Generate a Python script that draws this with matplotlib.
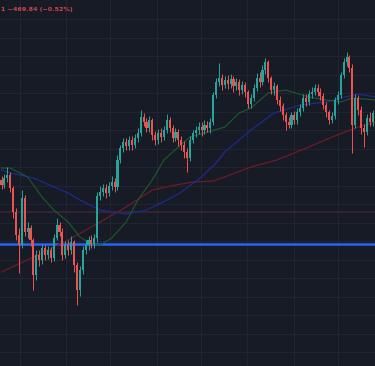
import numpy as np
import matplotlib
matplotlib.use("Agg")
from matplotlib import pyplot as plt

# candles (open of first bar, then closes; each open = previous close)
first_open = 91000
closes = [90750, 91100, 91250, 90600, 89400, 88250, 87750, 90100, 88400, 88600,
          88000, 86250, 87250, 87000, 87600, 87250, 87500, 87100, 88100, 88750,
          88400, 87250, 87750, 87500, 87900, 86750, 85500, 86500, 87500, 87750,
          88000, 87800, 88100, 90200, 90400, 90600, 90350, 90700, 90900, 90650,
          92000, 92600, 92900, 92700, 93000, 92750, 93100, 93350, 94150, 93900,
          93600, 94000, 93250, 93000, 93350, 93150, 93500, 94000, 93600, 93100,
          93400, 93000, 92750, 92400, 92100, 93000, 93350, 93500, 93650, 93500,
          93750, 93600, 93900, 95250, 95900, 96100, 95750, 96000, 95800, 96050,
          95700, 95900, 95500, 95750, 95400, 94800, 95100, 95600, 96100, 95900,
          96500, 96900, 96100, 95500, 95700, 95000, 94700, 94250, 93900, 93750,
          94250, 94000, 94400, 94600, 95100, 94900, 95300, 95400, 95600, 95400,
          95200, 94750, 94400, 94000, 94200, 95000, 95250, 96250, 96900, 97150,
          96600, 93750, 95100, 94500, 93600, 93400, 94100, 93900, 94350, 94100]
highs = [91200, 91300, 91650, 91400, 90700, 89600, 88600, 90500, 90250, 88900,
         88750, 88100, 87500, 87500, 87800, 87750, 87700, 87650, 88300, 89100,
         88900, 88600, 87950, 88000, 88200, 88000, 86900, 86700, 87700, 88000,
         88200, 88250, 88300, 90400, 90700, 90800, 90800, 90900, 91200, 91100,
         92250, 92750, 93100, 93100, 93200, 93200, 93300, 93600, 94500, 94350,
         94100, 94200, 94100, 93450, 93550, 93600, 93700, 94300, 94150, 93750,
         93600, 93550, 93200, 92950, 92600, 93200, 93500, 93700, 93900, 93900,
         94000, 93950, 94100, 95400, 96100, 96850, 96300, 96200, 96250, 96300,
         96200, 96100, 96050, 95950, 95900, 95500, 95300, 95800, 96350, 96400,
         96750, 97100, 97000, 96200, 95900, 95800, 95200, 94850, 94400, 94150,
         94400, 94450, 94600, 94800, 95300, 95300, 95500, 95650, 95800, 95800,
         95600, 95350, 94900, 94500, 94400, 95150, 95450, 96400, 97100, 97400,
         97250, 96800, 95300, 95250, 94700, 93800, 94300, 94400, 94500, 94600]
lows = [90550, 90600, 90900, 90400, 89100, 88000, 86350, 87600, 88200, 88100,
        87700, 85500, 86000, 86700, 86800, 87000, 87050, 86900, 86950, 88000,
        88200, 87000, 87100, 87250, 87300, 86400, 84750, 85200, 86300, 87300,
        87500, 87600, 87600, 87900, 90000, 90200, 90100, 90200, 90500, 90400,
        90500, 91850, 92400, 92500, 92500, 92500, 92600, 92900, 93200, 93700,
        93400, 93400, 93000, 92750, 92800, 92900, 93000, 93350, 93400, 92900,
        92950, 92700, 92500, 92100, 91400, 91950, 92850, 93150, 93300, 93200,
        93300, 93400, 93350, 93750, 95100, 95700, 95500, 95600, 95550, 95600,
        95400, 95500, 95250, 95300, 95150, 94600, 94600, 94950, 95450, 95650,
        95750, 96300, 95900, 95300, 95250, 94800, 94450, 94000, 93500, 93600,
        93600, 93800, 93800, 94200, 94450, 94700, 94750, 95100, 95250, 95200,
        95000, 94550, 94150, 93800, 93850, 94050, 94800, 95100, 96100, 96700,
        96400, 92350, 93600, 94250, 93300, 92650, 93250, 93700, 93700, 93900]

# moving averages, read at some bar indices
ma_fast_idx = [0, 3, 9, 14, 18, 23, 27, 31, 34, 38, 43, 47, 52, 56, 61, 65, 70,
               77, 82, 86, 92, 98, 106, 112, 117, 121, 129]
ma_fast = [91600, 91600, 91150, 90150, 89500, 88900, 88150, 87800, 87750, 88100,
           88900, 90000, 91000, 92000, 92650, 93150, 93350, 93650, 94350, 94600,
           95350, 95500, 95150, 95000, 94900, 95100, 95000]
ma_mid_idx = [0, 3, 11, 23, 27, 34, 43, 50, 55, 61, 69, 74, 77, 86, 94, 103, 112,
              117, 123, 129]
ma_mid = [91500, 91350, 91100, 90350, 90000, 89500, 89300, 89500, 89850, 90300,
          91150, 91850, 92400, 93500, 94350, 94750, 94900, 95100, 95300, 95150]
ma_slow_idx = [0, 11, 23, 34, 43, 52, 60, 66, 73, 76, 86, 95, 106, 114, 123, 129]
ma_slow = [86400, 87150, 88000, 88900, 89650, 90500, 90750, 90900, 90950, 91100,
           91650, 92000, 92650, 93150, 93650, 93900]

level_blue = 87825
level_red = 89425
label = "1 \u2212469.84 (\u22120.52%)"

bg = "#171b26"
up_col = "#26a69a"
down_col = "#ef5350"

fig = plt.figure(figsize=(3.75, 3.66), dpi=100)
fig.patch.set_facecolor(bg)
ax = fig.add_axes([0, 0, 1, 1])
ax.set_facecolor(bg)

opens = [first_open] + closes[:-1]
n = len(closes)
xs = np.arange(n)
o = np.array(opens, dtype=float)
c = np.array(closes, dtype=float)
h = np.maximum(np.array(highs, dtype=float), np.maximum(o, c))
l = np.minimum(np.array(lows, dtype=float), np.minimum(o, c))
cols = [up_col if cc >= oo else down_col for oo, cc in zip(o, c)]

# grid
for gx in [6.4, 22.2, 37.4, 53.6, 68.8, 84.7, 100.9, 116.0]:
    ax.axvline(gx, color="#212532", lw=0.8, zorder=0)
for gy in np.arange(99050, 81000, -925):
    ax.axhline(gy, color="#212532", lw=0.8, zorder=0)

ax.axhline(level_red, color="#3d2431", lw=1.2, zorder=1)
ax.axhline(level_blue, color="#2962ff", lw=1.8, zorder=1)

ax.plot(ma_slow_idx, ma_slow, color="#6e1a26", lw=0.9, zorder=2)
ax.plot(ma_mid_idx, ma_mid, color="#1d2a8a", lw=0.9, zorder=2)
ax.plot(ma_fast_idx, ma_fast, color="#1b5a2c", lw=0.8, zorder=2)

ax.vlines(xs, l, h, colors=cols, lw=0.7, zorder=3)
body = np.where(np.abs(c - o) < 40, 40, c - o)
ax.bar(xs, body, bottom=o, width=0.7, color=cols, lw=0, zorder=4)

ax.set_xlim(-0.52, 128.8)
ax.set_ylim(81700, 100000)
ax.axis("off")

fig.text(0.003, 0.982, label, color="#d0454e", fontsize=4.6, va="top", ha="left",
         family="DejaVu Sans Condensed", weight="bold")

fig.savefig("out.png", dpi=100, facecolor=bg)
